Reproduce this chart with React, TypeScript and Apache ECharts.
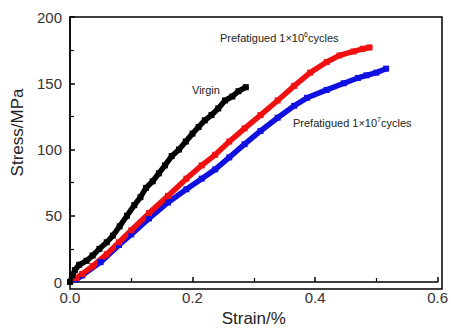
import React, { useEffect, useRef } from "react";
import * as echarts from "echarts";

const xTicks = [0, 0.2, 0.4, 0.6];
const yTicks = [0, 50, 100, 150, 200];

const virginStrain = [0, 0.004, 0.008, 0.015, 0.027, 0.037, 0.048, 0.06, 0.07, 0.081, 0.093, 0.105, 0.115, 0.124, 0.135, 0.145, 0.155, 0.166, 0.178, 0.189, 0.2, 0.21, 0.22, 0.231, 0.242, 0.253, 0.265, 0.275, 0.287];
const virginStress = [0, 5, 9, 13, 16, 20, 25, 30, 35, 42, 50, 58, 64, 71, 76, 82, 88, 95, 100, 106, 112, 117, 122, 126, 131, 137, 140, 144, 147];

const pre6Strain = [0, 0.01, 0.02, 0.037, 0.06, 0.08, 0.1, 0.129, 0.16, 0.19, 0.215, 0.237, 0.26, 0.285, 0.311, 0.339, 0.366, 0.392, 0.419, 0.44, 0.463, 0.478, 0.489];
const pre6Stress = [0, 3, 6, 12, 21, 30, 39, 52, 65, 78, 88, 96, 106, 116, 126, 137, 148, 158, 166, 171, 174, 176, 177];

const pre7Strain = [0, 0.01, 0.02, 0.05, 0.08, 0.1, 0.129, 0.16, 0.19, 0.215, 0.237, 0.26, 0.285, 0.311, 0.339, 0.366, 0.387, 0.419, 0.447, 0.47, 0.484, 0.5, 0.516];
const pre7Stress = [0, 2, 5, 15, 28, 36, 48, 60, 70, 78, 85, 94, 104, 114, 124, 133, 139, 145, 150, 154, 156, 158, 161];

const zip = (a: number[], b: number[]) => a.map((v, i) => [v, b[i]]);

export default function App() {
  const ref = useRef<HTMLDivElement>(null);
  useEffect(() => {
    document.documentElement.style.margin = "0";
    document.documentElement.style.overflow = "hidden";
    document.body.style.margin = "0";
    document.body.style.overflow = "hidden";
    if (!ref.current) return;
    const chart = echarts.init(ref.current, null, { renderer: "svg" });
    const font = "Arial, 'Liberation Sans', sans-serif";
    const mkSeries = (name: string, data: number[][], color: string) => ({
      name,
      type: "line",
      data,
      showSymbol: true,
      symbol: "rect",
      symbolSize: 6,
      itemStyle: { color },
      lineStyle: { color, width: 5.5, join: "round", cap: "round" },
      z: 3,
    });
    const sup = { fontSize: 7, verticalAlign: "top", padding: [0, 0, 6, 0], fill: "#222" };
    chart.setOption({
      animation: false,
      grid: { left: 70, right: 9, top: 17, bottom: 43 },
      xAxis: {
        type: "value",
        min: xTicks[0],
        max: xTicks[xTicks.length - 1],
        interval: 0.2,
        name: "Strain/%",
        nameLocation: "middle",
        nameGap: 28,
        nameTextStyle: { fontSize: 17, color: "#222", fontFamily: font },
        axisLine: { show: true, lineStyle: { color: "#000", width: 1.5 } },
        axisTick: { show: true, inside: true, length: 5, lineStyle: { color: "#000", width: 1.5 } },
        minorTick: { show: true, splitNumber: 2, length: 4, lineStyle: { color: "#000", width: 1.2 } },
        splitLine: { show: false },
        axisLabel: {
          fontSize: 15,
          color: "#333",
          fontFamily: font,
          margin: 8,
          formatter: (v: number) => v.toFixed(1),
        },
      },
      yAxis: {
        type: "value",
        min: yTicks[0],
        max: yTicks[yTicks.length - 1],
        interval: 50,
        name: "Stress/MPa",
        nameLocation: "middle",
        nameGap: 40,
        nameTextStyle: { fontSize: 17, color: "#222", fontFamily: font, padding: [0, 0, 0, 34] },
        axisLine: { show: true, lineStyle: { color: "#000", width: 1.5 } },
        axisTick: { show: true, inside: true, length: 5, lineStyle: { color: "#000", width: 1.5 } },
        minorTick: { show: true, splitNumber: 2, length: 4, lineStyle: { color: "#000", width: 1.2 } },
        splitLine: { show: false },
        axisLabel: { fontSize: 15, color: "#333", fontFamily: font, margin: 8 },
      },
      graphic: [
        {
          type: "rect",
          shape: { x: 70, y: 17, width: 372, height: 272 },
          style: { fill: "none", stroke: "#000", lineWidth: 1.5 },
          silent: true,
          z: 1,
        },
        {
          type: "text",
          x: 192,
          y: 84,
          style: { text: "Virgin", fontSize: 11, fill: "#222", fontFamily: font },
        },
        {
          type: "text",
          x: 220,
          y: 31,
          style: {
            text: "Prefatigued 1×10{s|6}cycles",
            fontSize: 11,
            fill: "#222",
            fontFamily: font,
            rich: { s: sup },
          },
        },
        {
          type: "text",
          x: 293,
          y: 116,
          style: {
            text: "Prefatigued 1×10{s|7}cycles",
            fontSize: 11,
            fill: "#222",
            fontFamily: font,
            rich: { s: sup },
          },
        },
      ],
      series: [
        mkSeries("Prefatigued 1×10^7 cycles", zip(pre7Strain, pre7Stress), "#1010e0"),
        mkSeries("Prefatigued 1×10^6 cycles", zip(pre6Strain, pre6Stress), "#f01010"),
        mkSeries("Virgin", zip(virginStrain, virginStress), "#000000"),
      ],
    });
    return () => chart.dispose();
  }, []);
  return <div ref={ref} style={{ width: 451, height: 332 }} />;
}
